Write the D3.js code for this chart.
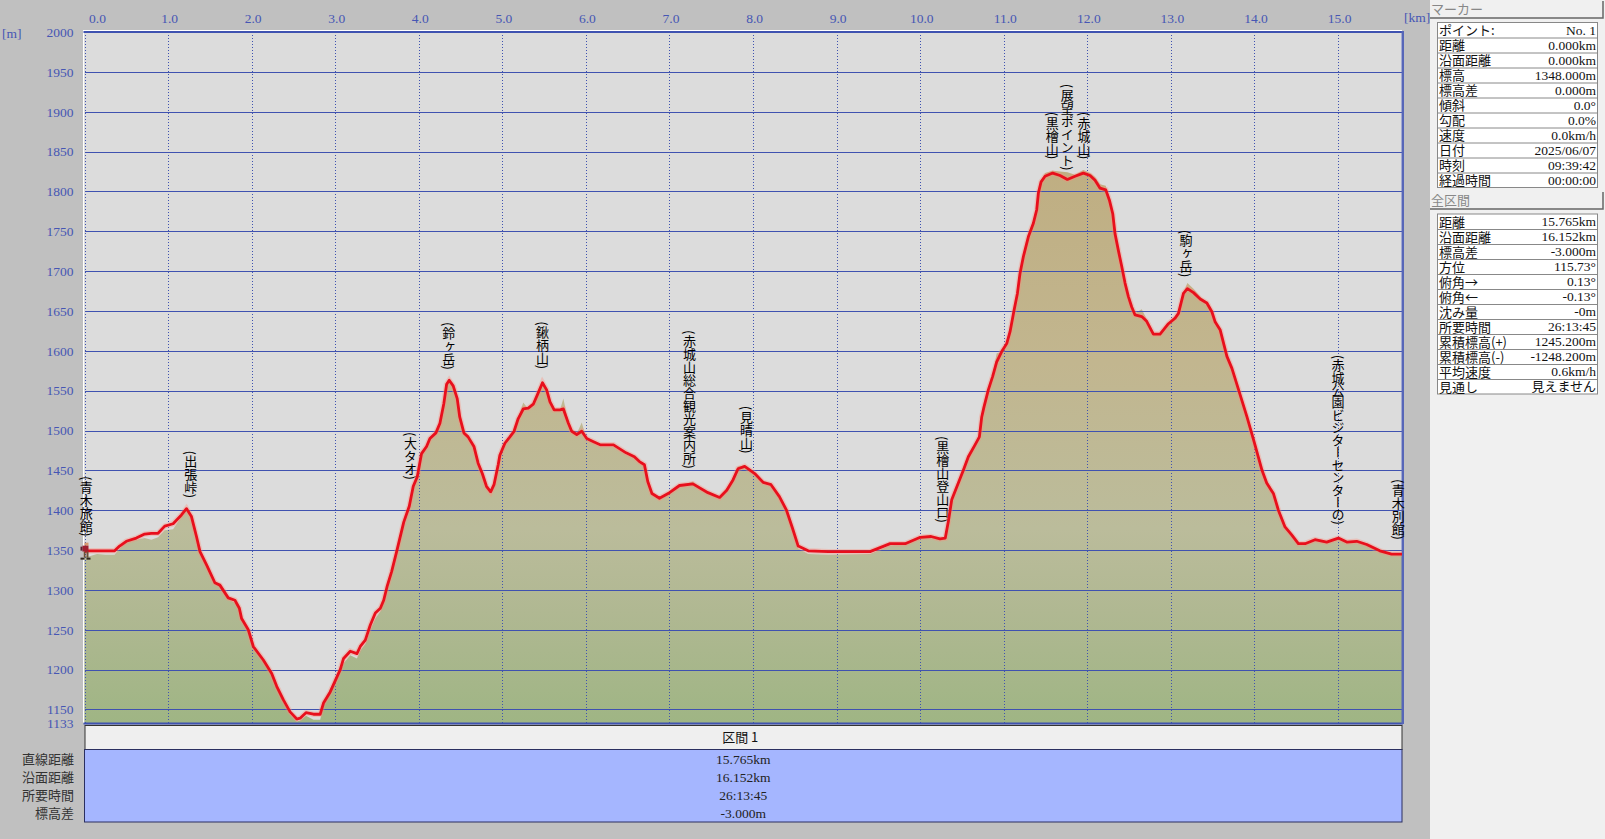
<!DOCTYPE html>
<html lang="ja"><head><meta charset="utf-8">
<script src="https://cdn.jsdelivr.net/npm/d3@7/dist/d3.min.js"></script>
<style>
html,body{margin:0;padding:0;background:#c0c0c0;overflow:hidden}
svg{display:block}
.num{font-family:"Liberation Serif",serif;font-size:13.5px}
.jp{font-family:"Noto Sans CJK JP",sans-serif;font-size:13px}
</style></head><body><div id="c"></div>
<script>
const kmValues=[0,.05,.15,.25,.36,.42,.5,.62,.72,.8,.88,.96,1.06,1.16,1.22,1.28,1.34,
1.382,1.462,1.56,1.62,1.72,1.8,1.853,1.88,1.96,2.02,2.14,2.24,2.3,2.38,2.46,2.54,2.58,2.65,2.74,2.82,2.86,2.94,3.06,3.1,3.18,3.26,3.3,3.36,3.42,3.48,3.54,3.58,3.62,3.675,3.735,3.82,
3.886,3.934,3.982,4.033,4.093,4.133,4.205,4.253,4.3,4.333,4.364,4.412,4.46,4.49,4.54,4.59,4.66,4.71,4.76,4.81,4.86,4.9,4.95,4.97,5.03,5.09,5.14,5.19,5.25,5.31,5.37,5.42,5.48,5.53,5.57,5.62,5.69,5.73,5.79,5.83,5.89,5.95,6.01,6.09,6.17,
6.33,6.48,6.58,6.64,6.7,6.74,6.79,6.88,7,7.12,7.28,7.46,7.6,7.685,7.76,7.82,7.9,8.02,8.12,8.215,8.315,8.4,8.47,8.54,8.66,8.9,9.4,9.64,9.82,10,10.13,10.237,
10.3,10.337,10.377,10.456,10.516,10.576,10.656,10.708,10.736,10.764,10.815,10.867,10.915,10.975,11.035,11.075,11.123,11.163,11.194,11.234,11.294,11.354,11.394,11.414,11.446,11.494,11.585,11.673,11.761,11.853,11.952,12.032,12.092,12.152,12.22,12.264,12.304,12.331,12.371,12.411,12.451,12.491,12.531,12.571,12.651,12.71,12.79,12.87,12.97,13.05,13.09,13.15,13.197,13.27,13.35,13.43,
13.49,13.53,13.59,13.67,13.73,13.81,13.91,13.99,14.09,14.146,14.226,14.286,14.365,14.445,14.525,14.605,14.724,14.864,15.004,15.104,15.223,15.343,15.5,15.64,15.765];
const trackElevation=[1348,1349,1349,1349,1349,1355,1361,1365,1370,1371,1371,1380,1383,1394,1402,1392,1367,
1348,1331,1309,1306,1290,1287,1277,1264,1250,1229,1212,1195,1179,1162,1147,1138,1139,1146,1144,1144,1158,1172,1200,1214,1223,1220,1229,1237,1256,1271,1277,1287,1304,1323,1348,1385,
1405,1430,1442,1471,1480,1490,1497,1509,1534,1558,1563,1556,1540,1517,1497,1492,1480,1459,1446,1430,1423,1432,1457,1469,1484,1492,1499,1515,1527,1528,1533,1545,1560,1551,1536,1526,1526,1527,1509,1499,1495,1499,1490,1486,1482,
1482,1472,1467,1461,1457,1436,1421,1415,1422,1431,1433,1422,1416,1425,1438,1452,1455,1446,1435,1432,1417,1400,1378,1355,1349,1348,1348,1358,1358,1366,1367,1364,
1365,1386,1413,1434,1450,1467,1482,1492,1517,1530,1551,1568,1586,1599,1609,1624,1651,1672,1697,1718,1743,1760,1777,1798,1812,1819,1823,1820,1815,1819,1823,1820,1814,1804,1802,1789,1772,1747,1726,1706,1685,1668,1655,1645,1643,1637,1621,1621,1634,1641,1647,1672,1678,1673,1665,1660,
1649,1636,1626,1593,1578,1551,1517,1488,1450,1434,1421,1400,1379,1369,1358,1358,1363,1360,1365,1360,1361,1357,1349,1345,1345];
const terrainElevation=[1343,1342,1345,1344,1344,1352,1360,1363,1365,1363,1366,1375,1376,1392,1403,1392,1367,
1348,1330,1308,1304,1289,1284,1276,1263,1249,1228,1210,1193,1177,1159,1144,1135,1136,1142,1137,1137,1155,1170,1197,1208,1218,1214,1224,1232,1250,1264,1273,1285,1303,1322,1347,1384,
1404,1429,1441,1470,1479,1489,1497,1508,1533,1557,1563,1556,1540,1516,1496,1491,1479,1458,1445,1428,1420,1430,1455,1468,1483,1491,1498,1516,1535,1527,1532,1544,1562,1550,1535,1525,1526,1540,1510,1498,1496,1510,1488,1484,1480,
1480,1470,1466,1459,1455,1434,1419,1413,1421,1431,1436,1422,1415,1428,1441,1455,1456,1445,1433,1430,1415,1398,1376,1352,1345,1344,1345,1356,1357,1365,1366,1363,
1364,1385,1412,1436,1450,1467,1482,1492,1517,1530,1551,1569,1597,1598,1609,1624,1651,1672,1697,1718,1743,1760,1777,1798,1814,1823,1826,1825,1824,1821,1827,1823,1818,1809,1807,1790,1773,1747,1726,1706,1686,1669,1656,1647,1652,1640,1620,1620,1634,1642,1648,1673,1685,1678,1668,1661,
1650,1637,1626,1594,1579,1554,1518,1489,1451,1437,1424,1401,1380,1369,1358,1359,1364,1361,1365,1361,1362,1358,1350,1345,1345];
const kmTicks=d3.range(0,16).map(d=>d);
const elevationTicks=[2000,1950,1900,1850,1800,1750,1700,1650,1600,1550,1500,1450,1400,1350,1300,1250,1200,1150,1133];
const placeNames=["(青木旅館)","(出張峠)","(大タオ)","(鈴ヶ岳)","(鍬柄山)","(赤城山総合観光案内所)","(見晴山)","(黒檜山登山口)","(黒檜山)","(展望ポイント)","(赤城山)","(駒ヶ岳)","(赤城公園ビジターセンターの)","(青木別館)"];
const placeKm=[0.02,1.27,3.9,4.36,5.48,7.24,7.92,10.27,11.58,11.76,11.96,13.18,15.0,15.72];
const placeTopElevation=[1443,1475,1498,1636,1637,1626,1531,1493,1900,1935,1900,1752,1595,1439];
const markerLabels=["ポイント:","距離","沿面距離","標高","標高差","傾斜","勾配","速度","日付","時刻","経過時間"];
const markerValues=["No. 1","0.000km","0.000km","1348.000m","0.000m","0.0°","0.0%","0.0km/h","2025/06/07","09:39:42","00:00:00"];
const totalLabels=["距離","沿面距離","標高差","方位","俯角→","俯角←","沈み量","所要時間","累積標高(+)","累積標高(-)","平均速度","見通し"];
const totalValues=["15.765km","16.152km","-3.000m","115.73°","0.13°","-0.13°","-0m","26:13:45","1245.200m","-1248.200m","0.6km/h","見えません"];
const sectionLabels=["直線距離","沿面距離","所要時間","標高差"];
const sectionValues=["15.765km","16.152km","26:13:45","-3.000m"];

const W=1605,H=839,L=84.5,R=1402,T=32,B=723;
const x=d3.scaleLinear().domain([0,15.765]).range([L,R]);
const y=d3.scaleLinear().domain([2000,1133]).range([T,B]);
const svg=d3.select("#c").append("svg").attr("width",W).attr("height",H);
const BLUE="#3f52b0",TXT="#4656b4";
svg.append("rect").attr("width",W).attr("height",H).attr("fill","#c0c0c0");
svg.append("rect").attr("x",1430).attr("width",W-1430).attr("height",H).attr("fill","#f0f0f0");

const defs=svg.append("defs");
const g=defs.append("linearGradient").attr("id","ground").attr("gradientUnits","userSpaceOnUse")
 .attr("x1",0).attr("x2",0).attr("y1",y(1830)).attr("y2",B);
[[0,"#bfae82"],[.35,"#c2b68f"],[.65,"#bbbc9b"],[.8,"#b0b892"],[1,"#9fb584"]].forEach(d=>g.append("stop").attr("offset",d[0]).attr("stop-color",d[1]));

// plot
svg.append("rect").attr("x",83).attr("y",30).attr("width",R-83).attr("height",B-30).attr("fill","#fff");
svg.append("rect").attr("x",L-.5).attr("y",T).attr("width",R-L).attr("height",B-T).attr("fill","#dcdcdc");
const area=d3.area().x((d,i)=>x(kmValues[i])).y0(B).y1(d=>y(d));
svg.append("path").datum(terrainElevation).attr("d",area).attr("fill","url(#ground)");

// grid through D3 axes
const gridY=svg.append("g").attr("transform",`translate(${L},0)`)
 .call(d3.axisRight(y).tickValues(elevationTicks.filter(d=>d!==1133&&d!==2000)).tickSize(R-L).tickFormat(""));
gridY.select(".domain").remove();
gridY.selectAll("line").attr("stroke",BLUE).attr("stroke-width",1).attr("shape-rendering","crispEdges");
const gridX=svg.append("g").attr("transform",`translate(0,${T})`)
 .call(d3.axisBottom(x).tickValues(kmTicks).tickSize(B-T).tickFormat(""));
gridX.select(".domain").remove();
gridX.selectAll("line").attr("stroke",BLUE).attr("stroke-width",1).attr("stroke-dasharray","1,2").attr("shape-rendering","crispEdges");

// frame
const frame=svg.append("g").attr("fill",BLUE);
frame.append("rect").attr("x",L-1).attr("y",T-1).attr("width",R-L+2).attr("height",2);
frame.append("rect").attr("x",L-1).attr("y",B-.5).attr("width",R-L+2).attr("height",2);
frame.append("rect").attr("x",R-.5).attr("y",T-1).attr("width",2.5).attr("height",B-T+2).attr("fill","#5666b8");

// labels
const axTop=svg.append("g").attr("transform",`translate(0,${T})`)
 .call(d3.axisTop(x).tickValues(kmTicks).tickSize(0).tickPadding(9).tickFormat(d3.format(".1f")));
axTop.select(".domain").remove();
axTop.selectAll("text").attr("fill",TXT).attr("dx",(d,i)=>i===0?12.5:1).style("font-family",'"Liberation Serif",serif').style("font-size","13.5px");
const axLeft=svg.append("g").attr("transform",`translate(${L},0)`)
 .call(d3.axisLeft(y).tickValues(elevationTicks).tickSize(0).tickPadding(11).tickFormat(d3.format("d")));
axLeft.select(".domain").remove();
axLeft.selectAll("text").attr("fill",TXT).style("font-family",'"Liberation Serif",serif').style("font-size","13.5px");
svg.append("text").attr("class","num").attr("x",2).attr("y",38).attr("fill",TXT).text("[m]");
svg.append("text").attr("class","num").attr("x",1404).attr("y",22).attr("fill",TXT).text("[km]");

// place names
const names=svg.append("g");
placeNames.forEach((n,i)=>{
 names.append("text").attr("class","jp")
  .attr("transform",`translate(${x(placeKm[i])},${y(placeTopElevation[i])})`)
  .style("writing-mode","vertical-rl").attr("text-anchor","start").attr("dominant-baseline","central")
  .style("letter-spacing",n.length>12?"-.55px":null)
  .attr("fill","#000").text(n);
});

// profile line
const line=d3.line().x((d,i)=>x(kmValues[i])).y(d=>y(d));
svg.append("path").datum(trackElevation).attr("d",line).attr("fill","none").attr("stroke","#ff8c78").attr("stroke-opacity",.35).attr("stroke-width",5.5);
svg.append("path").datum(trackElevation).attr("d",line).attr("fill","none").attr("stroke","#e80f1c").attr("stroke-width",2.8).attr("stroke-linejoin","round");

// hiker marker
const h=svg.append("g").attr("transform",`translate(${x(0)},${y(trackElevation[0])})`);
[["#d89a70",0,-9,4,3],["#a02030",-2,-6,6,6],["#602030",-4,-5,2,4],["#6a5038",-1,0,2,6],["#6a5038",2,0,2,6],["#302820",-4,6,4,2],["#302820",2,6,4,2]]
 .forEach(p=>h.append("rect").attr("fill",p[0]).attr("x",p[1]).attr("y",p[2]).attr("width",p[3]).attr("height",p[4]));

// section panel
svg.append("rect").attr("x",85).attr("y",725.5).attr("width",R-85).attr("height",24).attr("fill","#efefef").attr("stroke","#333");
svg.append("text").attr("class","jp").attr("x",(L+R)/2-3).attr("y",742).attr("text-anchor","middle").attr("fill","#111").text("区間 1");
svg.append("rect").attr("x",84.5).attr("y",749.5).attr("width",R-84.5).attr("height",72.5).attr("fill","#a5b6ff").attr("stroke","#2a2f60");
const secY=d3.scaleBand().domain(sectionLabels).range([750,822]);
sectionLabels.forEach((s,i)=>{
 const yy=secY(s)+secY.bandwidth()/2+4.5;
 svg.append("text").attr("class","jp").attr("x",74).attr("y",yy).attr("text-anchor","end").attr("fill","#333").text(s);
 svg.append("text").attr("class","num").attr("x",(L+R)/2).attr("y",yy).attr("text-anchor","middle").attr("fill","#222").text(sectionValues[i]);
});

// right panels
function panel(title,headY,headH,tabY,labels,values){
 svg.append("rect").attr("x",1430).attr("y",headY).attr("width",173).attr("height",headH).attr("fill","#f0f0f0");
 svg.append("path").attr("d",`M1430 ${headY+headH}H1603V${headY}`).attr("fill","none").attr("stroke","#666").attr("stroke-width",1.5);
 svg.append("text").attr("class","jp").attr("x",1431).attr("y",headY+headH-4).attr("fill","#888").text(title);
 const rows=d3.scaleBand().domain(d3.range(labels.length)).range([tabY,tabY+15*labels.length]);
 svg.append("rect").attr("x",1437.5).attr("y",tabY).attr("width",160).attr("height",15*labels.length).attr("fill","#fff").attr("stroke","#888");
 labels.forEach((l,i)=>{
  const ry=rows(i);
  if(i)svg.append("line").attr("x1",1437.5).attr("x2",1597.5).attr("y1",ry+.5).attr("y2",ry+.5).attr("stroke","#888");
  svg.append("text").attr("class","jp").attr("x",1439).attr("y",ry+12.5).attr("fill","#111").text(l);
  svg.append("text").attr("class",/[ぁ-ん]|[ァ-ヶ]|見/.test(values[i])?"jp":"num").attr("x",1596).attr("y",ry+12).attr("text-anchor","end").attr("fill","#111").text(values[i]);
 });
}
panel("マーカー",1,17,22.5,markerLabels,markerValues);
panel("全区間",192,17,214,totalLabels,totalValues);
</script></body></html>
